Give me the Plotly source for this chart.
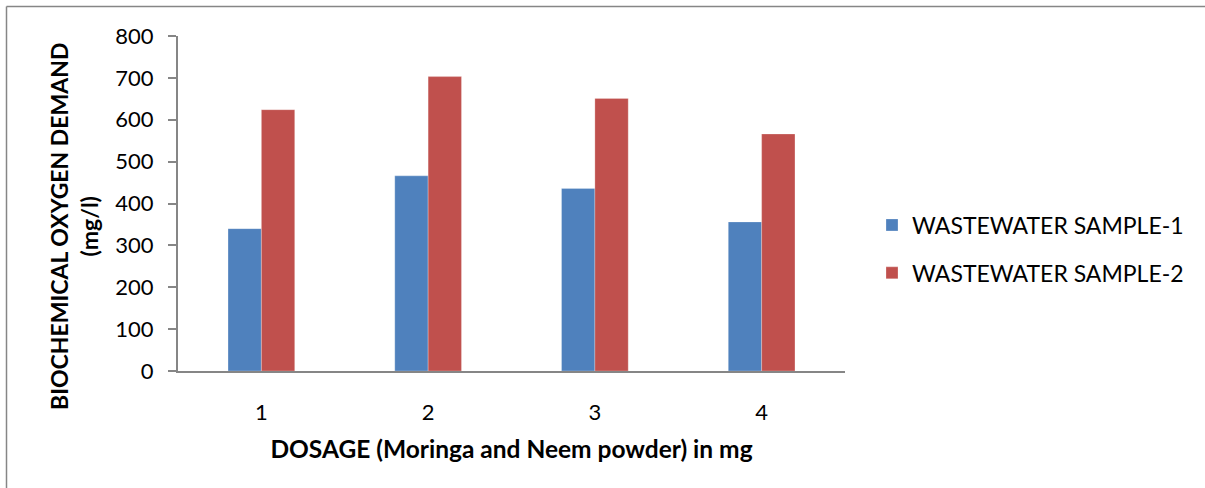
import plotly.graph_objects as go

categories = ["1", "2", "3", "4"]
sample1 = [340, 466, 436, 356]
sample2 = [624, 703, 651, 566]
series_names = ["WASTEWATER SAMPLE-1", "WASTEWATER SAMPLE-2"]
y_ticks = [0, 100, 200, 300, 400, 500, 600, 700, 800]

W, H = 1205, 488
ML, MR, MT, MB = 178, 360, 36, 117
PW, PH = W - ML - MR, H - MT - MB

def px_x(x):
    return (x - ML) / PW

def px_y(y):
    return (H - MB - y) / PH

FONT = "Lato"

fig = go.Figure()
fig.add_trace(go.Bar(x=categories, y=sample1, name=series_names[0],
                     marker=dict(color="#4F81BD", line=dict(color="rgba(255,255,255,0.5)", width=0.5)),
                     legendgroup="a"))
fig.add_trace(go.Bar(x=categories, y=sample2, name=series_names[1],
                     marker=dict(color="#C0504D", line=dict(color="rgba(255,255,255,0.5)", width=0.5)),
                     legendgroup="b"))

fig.update_layout(
    width=W, height=H,
    margin=dict(l=ML, r=MR, t=MT, b=MB, pad=0),
    paper_bgcolor="white", plot_bgcolor="white",
    barmode="group", bargap=0.6, bargroupgap=0,
    font=dict(family=FONT, size=22, color="black"),
    showlegend=True,
    legend=dict(x=px_x(872), xanchor="left", y=px_y(249), yanchor="middle",
                font=dict(family=FONT, size=23, color="black"),
                traceorder="grouped", tracegroupgap=15, itemwidth=30,
                bgcolor="rgba(0,0,0,0)"),
    xaxis=dict(
        type="category", showline=True, linecolor="#868686", linewidth=2,
        ticks="", showgrid=False, zeroline=False,
        tickfont=dict(family=FONT, size=22), ticklabelstandoff=21,
        title=dict(text="<b>DOSAGE (Moringa and Neem powder) in mg</b>",
                   font=dict(family=FONT, size=24.5), standoff=16),
    ),
    yaxis=dict(
        range=[0, 800], tickvals=y_ticks, showline=True, linecolor="#868686",
        linewidth=2, ticks="outside", ticklen=8, tickcolor="#868686", tickwidth=2,
        showgrid=False, zeroline=False,
        tickfont=dict(family=FONT, size=22), ticklabelstandoff=10,
    ),
    annotations=[
        dict(text="<b>BIOCHEMICAL OXYGEN DEMAND<br>(mg/l)</b>", textangle=-90,
             xref="paper", yref="paper", x=px_x(74), y=px_y(226),
             xanchor="center", yanchor="middle", showarrow=False,
             font=dict(family=FONT, size=23, color="black")),
    ],
    shapes=[
        dict(type="line", xref="paper", yref="paper",
             x0=px_x(6.5), x1=px_x(W + 5), y0=px_y(6.5), y1=px_y(6.5),
             line=dict(color="#868686", width=1.5)),
        dict(type="line", xref="paper", yref="paper",
             x0=px_x(6.5), x1=px_x(6.5), y0=px_y(6.5), y1=px_y(H + 5),
             line=dict(color="#868686", width=1.5)),
    ],
)

fig.write_html("out.html")
